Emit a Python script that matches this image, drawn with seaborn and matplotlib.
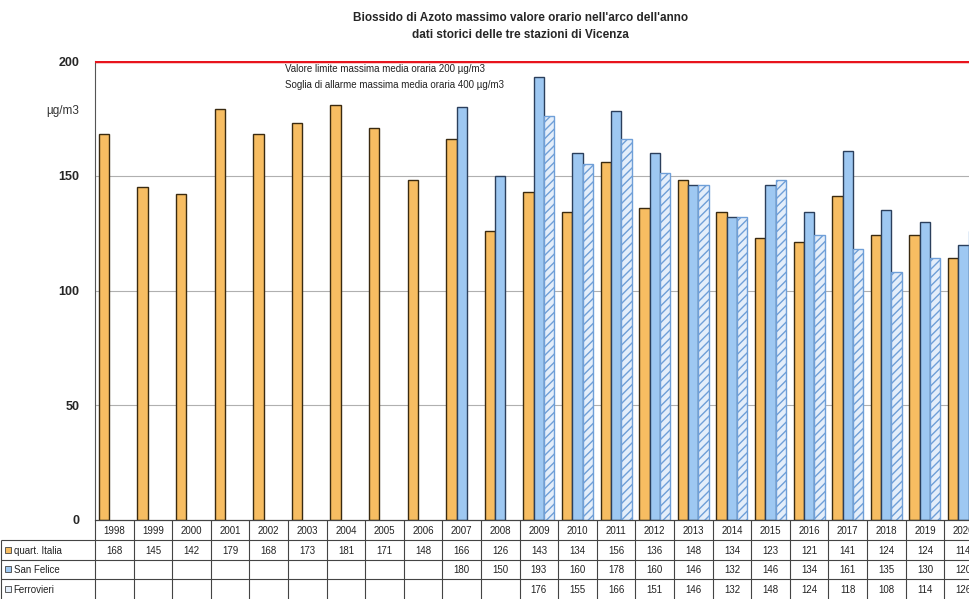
import matplotlib
matplotlib.use("Agg")
from matplotlib import pyplot as plt
import seaborn as sns
import pandas as pd
import numpy as np

anni = [str(a) for a in range(1998, 2021)]
serie = ["quart. Italia", "San Felice", "Ferrovieri"]
quart_italia = [168, 145, 142, 179, 168, 173, 181, 171, 148, 166, 126, 143,
                134, 156, 136, 148, 134, 123, 121, 141, 124, 124, 114]
san_felice = [None] * 9 + [180, 150, 193, 160, 178, 160, 146, 132, 146, 134,
                           161, 135, 130, 120]
ferrovieri = [None] * 11 + [176, 155, 166, 151, 146, 132, 148, 124, 118,
                            108, 114, 126]
valori = [quart_italia, san_felice, ferrovieri]
colori = ["#F7BD62", "#9EC8F2", "#E4EEFA"]

righe = []
for nome, vals in zip(serie, valori):
    for anno, v in zip(anni, vals):
        righe.append([anno, nome, v])
df = pd.DataFrame(righe, columns=["Anno", "Stazione", "Valore"])

sns.set_theme(style="white")
plt.rcParams["font.family"] = ["Liberation Sans", "DejaVu Sans"]

W, H = 969, 599
col = 38.6
fig = plt.figure(figsize=(W / 100, H / 100), dpi=100)
ax = fig.add_axes([95 / W, 79 / H, 23 * col / W, 459 / H])
ax_t = fig.add_axes([95 / W, 0, 23 * col / W, 79 / H], sharex=ax)

sns.barplot(data=df, x="Anno", y="Valore", hue="Stazione", order=anni,
            hue_order=serie, palette=colori, width=0.8, saturation=1, ax=ax,
            edgecolor="#3a2a10", linewidth=1.0, legend=False)
for p in ax.containers[1]:
    p.set_edgecolor("#2b3f5c")
for p in ax.containers[2]:
    p.set_hatch("////")
    p.set_edgecolor("#6f9fd8")

ax.set_xlim(-0.5, 22.5)
ax.set_ylim(0, 200)
ax.set_yticks([0, 50, 100, 150, 200])
ax.set_yticklabels(["0", "50", "100", "150", "200"], fontweight="bold", fontsize=9)
ax.tick_params(axis="y", direction="out", length=5, width=0.8, color="#555555", pad=6)
ax.tick_params(axis="x", length=0, labelbottom=False)
ax.set_xlabel("")
ax.set_ylabel("")
for y in [50, 100, 150]:
    ax.axhline(y, color="#b0b0b0", lw=0.8, zorder=0)
ax.axhline(200, color="#e8141c", lw=2.5, zorder=5)
for s in ["top", "right"]:
    ax.spines[s].set_visible(False)
ax.spines["left"].set_color("#555555")
ax.spines["left"].set_linewidth(0.8)
ax.spines["bottom"].set_color("#222222")
ax.spines["bottom"].set_linewidth(0.8)

ax.text(4.42, 196.5, "Valore limite massima media oraria 200 µg/m3", fontsize=7,
        va="center", ha="left", color="#222222")
ax.text(4.42, 189.5, "Soglia di allarme massima media oraria 400 µg/m3", fontsize=7,
        va="center", ha="left", color="#222222")
ax.text(-0.018, 0.89, "µg/m3", transform=ax.transAxes, ha="right", va="center",
        fontsize=8.5, color="#333333")

fig.text(0.537, 0.970, "Biossido di Azoto massimo valore orario nell'arco dell'anno",
         ha="center", va="center", fontsize=8.5, fontweight="bold")
fig.text(0.537, 0.942, "dati storici delle tre stazioni di Vicenza",
         ha="center", va="center", fontsize=8.5, fontweight="bold")

# tabella dati sotto il grafico
ax_t.set_ylim(4, 0)
ax_t.axis("off")
x_left = -0.5 - 95 / col
ax_t.hlines([0, 1, 2, 3], -0.5, 22.5, color="#444444", lw=0.8, clip_on=False)
ax_t.hlines([1, 2, 3], x_left + 0.02, -0.5, color="#444444", lw=0.8, clip_on=False)
ax_t.vlines(np.arange(-0.5, 23, 1), 0, 4, color="#444444", lw=0.8, clip_on=False)
ax_t.vlines([x_left + 0.03], 1, 4, color="#444444", lw=0.8, clip_on=False)
for i, anno in enumerate(anni):
    ax_t.text(i, 0.55, anno, ha="center", va="center", fontsize=7, color="#222222",
              clip_on=False)
for r, (nome, vals, c) in enumerate(zip(serie, valori, colori), start=1):
    for i, v in enumerate(vals):
        if v is not None:
            ax_t.text(i, r + 0.55, str(v), ha="center", va="center", fontsize=7,
                      color="#222222", clip_on=False)
    ax_t.plot([x_left + 0.2], [r + 0.5], marker="s", markersize=5, color=c,
              markeredgecolor="#444444", markeredgewidth=0.6, clip_on=False)
    ax_t.text(x_left + 0.35, r + 0.55, nome, ha="left", va="center", fontsize=7,
              color="#222222", clip_on=False)

fig.savefig("out.png", dpi=100)
